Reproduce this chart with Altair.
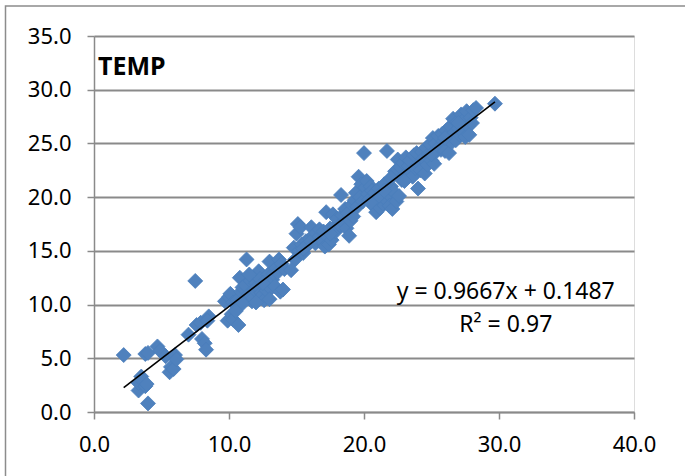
import altair as alt
import pandas as pd

# ---- data ----
xa = [2.2, 3.3, 3.3, 3.5, 3.6, 3.8, 3.9, 4.0, 3.8, 4.0, 4.7, 4.9, 5.3, 5.6, 5.7, 5.9, 6.0, 6.1, 7.0, 7.5, 7.6, 7.9, 8.0, 8.2, 8.3, 8.5, 8.4]
ya = [5.3, 2.0, 2.7, 3.3, 2.9, 2.4, 2.6, 0.8, 5.4, 5.5, 6.1, 5.7, 5.2, 3.7, 4.2, 4.0, 5.3, 4.9, 7.2, 12.2, 8.1, 8.3, 6.8, 6.4, 5.8, 8.9, 8.5]

xb = [9.7, 9.9, 10.0, 10.1, 10.2, 10.3, 10.3, 10.5, 10.6, 10.7, 10.8, 10.9, 11.0, 11.1, 11.2, 11.3, 11.4, 11.5, 11.6, 11.7,
      11.8, 11.9, 12.0, 12.1, 12.2, 12.3, 12.4, 12.5, 12.6, 12.7, 12.8, 12.9, 13.0, 13.1, 13.2, 13.3, 13.4, 13.5, 13.6, 13.7,
      13.8, 13.9, 14.0, 14.1, 11.0, 11.5, 12.0, 12.5, 13.0, 10.5]
yb = [10.3, 8.5, 10.7, 11.0, 9.1, 8.6, 10.2, 10.0, 10.4, 8.1, 12.5, 11.2, 11.6, 10.5, 11.8, 14.2, 10.8, 11.0, 12.2, 10.3,
      10.6, 11.4, 12.0, 11.7, 13.1, 12.4, 11.1, 10.9, 10.4, 11.9, 11.3, 12.8, 14.0, 11.5, 12.3, 12.9, 11.7, 13.4, 13.0, 14.2,
      11.2, 13.8, 11.4, 13.3, 10.1, 12.8, 10.2, 12.0, 10.5, 9.4]

xc = [14.6, 14.8, 14.9, 15.0, 15.1, 15.2, 15.3, 15.4, 15.5, 15.7, 15.8, 16.0, 16.1, 16.3, 16.4, 16.6, 16.7, 16.9, 17.0, 17.1,
      17.2, 17.3, 17.4, 17.5, 17.6, 17.7, 17.8, 17.9, 18.0, 18.2, 18.3, 18.4, 18.5, 18.6, 18.7, 18.8, 18.9, 19.0, 19.1, 19.2,
      19.3, 19.4, 19.5, 19.6, 19.7, 19.8, 19.9, 16.0, 15.5, 17.5]
yc = [13.2, 15.3, 14.2, 16.6, 17.5, 15.0, 17.2, 15.6, 14.8, 15.9, 15.5, 16.1, 17.2, 16.5, 15.7, 16.2, 17.0, 15.9, 16.8, 15.4,
      18.6, 16.3, 15.6, 17.1, 16.0, 18.4, 17.2, 16.8, 18.0, 17.4, 20.2, 18.3, 17.6, 18.9, 17.1, 18.5, 16.4, 17.8, 19.3, 18.2,
      19.7, 20.4, 19.1, 21.9, 20.0, 21.2, 19.6, 15.8, 15.2, 16.6]

xd = [20.0, 20.1, 20.2, 20.3, 20.4, 20.5, 20.6, 20.7, 20.8, 20.9, 21.0, 21.1, 21.2, 21.3, 21.4, 21.5, 21.6, 21.7, 21.8, 21.9,
      22.0, 22.1, 22.2, 22.3, 22.4, 22.5, 22.6, 22.7, 22.8, 22.9, 23.0, 23.1, 23.2, 23.3, 23.4, 23.5, 23.6, 23.7, 23.8, 23.9,
      24.0, 24.1, 24.2, 24.3, 24.4, 21.0, 22.0, 23.0, 20.5, 21.5]
yd = [24.1, 20.9, 21.5, 20.3, 19.8, 21.0, 20.6, 19.2, 20.4, 18.6, 19.5, 20.8, 19.0, 20.1, 19.4, 21.2, 19.8, 24.3, 20.3, 19.2,
      21.0, 18.9, 20.5, 22.4, 19.6, 23.5, 20.1, 22.8, 21.6, 23.2, 22.0, 23.7, 21.8, 22.9, 23.4, 22.4, 21.9, 23.9, 22.7, 24.1,
      20.8, 23.1, 22.5, 24.2, 23.6, 20.0, 21.8, 21.5, 19.5, 20.6]

xe = [24.5, 24.6, 24.7, 24.8, 24.9, 25.0, 25.1, 25.2, 25.3, 25.4, 25.5, 25.6, 25.7, 25.8, 25.9, 26.0, 26.1, 26.2, 26.3, 26.4,
      26.5, 26.6, 26.7, 26.8, 26.9, 27.0, 27.1, 27.2, 27.3, 27.4, 27.5, 27.6, 27.7, 27.8, 27.9, 28.0, 28.1, 28.3, 29.7,
      25.0, 26.0, 27.0]
ye = [22.2, 24.6, 23.0, 24.0, 24.9, 23.4, 25.5, 23.1, 25.0, 24.3, 25.7, 24.7, 24.4, 25.9, 25.2, 24.3, 26.2, 25.4, 24.1, 26.6,
      25.1, 27.3, 26.0, 25.3, 27.0, 26.4, 25.8, 27.7, 26.1, 27.2, 25.6, 28.0, 26.6, 25.8, 27.4, 26.9, 28.1, 28.3, 28.7,
      24.0, 25.5, 26.9]

slope = 0.9667
intercept = 0.1487
r2 = 0.97
title_text = "TEMP"
x_ticks = [0, 10, 20, 30, 40]
y_ticks = [0, 5, 10, 15, 20, 25, 30, 35]

xs = xa + xb + xc + xd + xe
ys = ya + yb + yc + yd + ye
assert len(xs) == len(ys)
pts = pd.DataFrame({"x": xs, "y": ys})

xmin, xmax = min(xs), max(xs)
trend = pd.DataFrame({"x": [xmin, xmax],
                      "y": [slope * xmin + intercept, slope * xmax + intercept]})

FONT = "Noto Sans"
GRAY = "#8a8a8a"

xscale = alt.Scale(domain=[0, 40], nice=False, zero=False)
yscale = alt.Scale(domain=[0, 35], nice=False, zero=False)

xaxis = alt.Axis(values=x_ticks, format=".1f", grid=False, title=None,
                 domainColor=GRAY, domainWidth=1.5, tickColor=GRAY, tickWidth=1.5,
                 tickSize=7, labelPadding=15, labelFont=FONT, labelFontSize=22,
                 labelColor="black", labelFlush=False)
yaxis = alt.Axis(values=y_ticks, format=".1f", grid=True, gridColor=GRAY, gridWidth=2,
                 title=None, domainColor=GRAY, domainWidth=1.5, tickColor=GRAY, tickWidth=1.5,
                 tickSize=7, labelPadding=16, labelFont=FONT, labelFontSize=22,
                 labelColor="black", labelFlush=False)

border = alt.Chart(pd.DataFrame({"a": [0]})).mark_rect(
    fill=None, stroke="#8c8c8c", strokeWidth=1.5
).encode(x=alt.value(-88.5), y=alt.value(-30), x2=alt.value(700), y2=alt.value(500))

scatter = alt.Chart(pts).mark_point(
    shape="diamond", filled=True, size=225, fill="#4F81BD", stroke="#4A7EBB",
    strokeWidth=0.8, opacity=1
).encode(
    x=alt.X("x:Q", scale=xscale, axis=xaxis),
    y=alt.Y("y:Q", scale=yscale, axis=yaxis),
)

line = alt.Chart(trend).mark_line(color="black", strokeWidth=1.6).encode(
    x=alt.X("x:Q", scale=xscale), y=alt.Y("y:Q", scale=yscale)
)

title = alt.Chart(pd.DataFrame({"t": [title_text]})).mark_text(
    font=FONT, fontSize=25, fontWeight="bold", align="left", baseline="alphabetic", color="black"
).encode(x=alt.datum(0.3), y=alt.datum(31.4), text="t:N")

eq = alt.Chart(pd.DataFrame({"t": [f"y = {slope}x + {intercept}", f"R² = {r2}"],
                             "yy": [10.52, 7.45]})).mark_text(
    font=FONT, fontSize=23, align="center", baseline="alphabetic", color="black"
).encode(x=alt.datum(30.5), y=alt.Y("yy:Q", scale=yscale), text="t:N")

chart = alt.layer(border, scatter, line, title, eq).properties(
    width=540, height=376,
    autosize=alt.AutoSizeParams(type="none"),
    padding={"left": 94, "top": 36, "right": 51, "bottom": 64},
).configure_view(stroke=None).configure(background="white")

chart.save("out.html", embed_options={"renderer": "svg", "actions": False})
